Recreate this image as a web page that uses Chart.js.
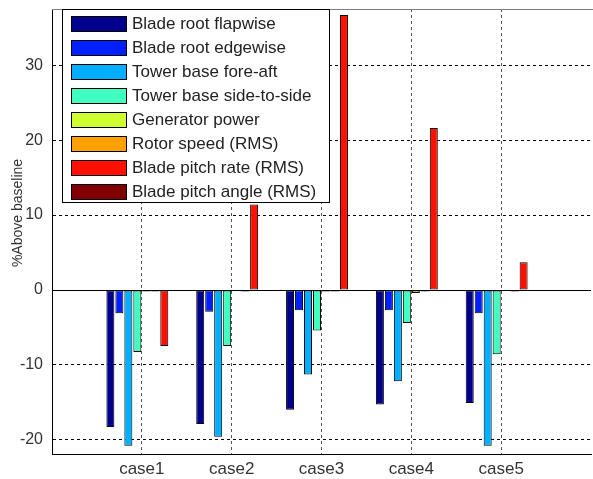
<!DOCTYPE html>
<html>
<head>
<meta charset="utf-8">
<script src="https://cdn.jsdelivr.net/npm/chart.js@4.4.0/dist/chart.umd.min.js"></script>
<style>
  html, body { margin: 0; padding: 0; background: #fff; }
</style>
</head>
<body>
<canvas id="grafico" width="593" height="479"></canvas>
<script>
// Dados
const casos = ['case1', 'case2', 'case3', 'case4', 'case5'];
const yTicks = [-20, -10, 0, 10, 20, 30];

const nomesSeries = [
  'Blade root flapwise',
  'Blade root edgewise',
  'Tower base fore-aft',
  'Tower base side-to-side',
  'Generator power',
  'Rotor speed (RMS)',
  'Blade pitch rate (RMS)',
  'Blade pitch angle (RMS)'
];

const rootFlapwise = [-18.3, -17.9, -16.0, -15.3, -15.1];
const rootEdgewise = [-3.1, -2.9, -2.7, -2.7, -3.1];
const towerForeAft = [-20.8, -19.6, -11.3, -12.2, -20.8];
const towerSideToSide = [-8.3, -7.5, -5.4, -4.4, -8.6];
const generatorPower = [-0.2, -0.1, -0.2, -0.4, -0.1];
const rotorSpeed = [-0.2, -0.2, -0.2, -0.2, -0.2];
const pitchRate = [-7.5, 11.4, 36.7, 21.6, 3.7];
const pitchAngle = [0.05, 0.05, 0.05, 0.05, 0.05];

// Cores (jet do MATLAB)
const cores = ['#00008F', '#0020FF', '#00AFFF', '#40FFBF', '#CFFF30', '#FF9F00', '#FF1000', '#800000'];

const valores = [rootFlapwise, rootEdgewise, towerForeAft, towerSideToSide,
  generatorPower, rotorSpeed, pitchRate, pitchAngle];

// Rótulos com posições vazias nas pontas (eixo de 0 a 6)
const rotulos = [''].concat(casos, ['']);

const datasets = valores.map((serie, i) => ({
  label: nomesSeries[i],
  data: [null].concat(serie, [null]),
  backgroundColor: cores[i],
  borderColor: '#000',
  borderWidth: 1,
  borderSkipped: false,
  categoryPercentage: 0.8,
  barPercentage: 0.89
}));

// Linha do zero, borda superior e legenda dentro da área do gráfico
const extrasPlugin = {
  id: 'extras',
  afterDatasetsDraw(chart) {
    const { ctx, chartArea, scales } = chart;
    const y0 = Math.round(scales.y.getPixelForValue(0)) + 0.5;
    ctx.save();
    ctx.strokeStyle = '#000';
    ctx.lineWidth = 1;
    ctx.beginPath();
    ctx.moveTo(chartArea.left, y0);
    ctx.lineTo(chartArea.right, y0);
    ctx.stroke();

    ctx.strokeStyle = '#808080';
    ctx.beginPath();
    ctx.moveTo(chartArea.left, Math.round(chartArea.top) + 0.5);
    ctx.lineTo(chartArea.right + 2, Math.round(chartArea.top) + 0.5);
    ctx.stroke();

    // título do eixo Y
    ctx.fillStyle = '#333';
    ctx.font = '14px "Liberation Sans", Arial, sans-serif';
    ctx.textAlign = 'center';
    ctx.textBaseline = 'middle';
    ctx.translate(18, 213);
    ctx.rotate(-Math.PI / 2);
    ctx.fillText('%Above baseline', 0, 0);
    ctx.restore();
  },
  afterDraw(chart) {
    const { ctx } = chart;
    const bx = 62, by = 9, bw = 267, bh = 193;
    ctx.save();
    ctx.fillStyle = '#fff';
    ctx.fillRect(bx, by, bw, bh);
    ctx.strokeStyle = '#000';
    ctx.lineWidth = 1;
    ctx.strokeRect(bx + 0.5, by + 0.5, bw, bh);
    ctx.font = '17px "Liberation Sans", Arial, sans-serif';
    ctx.textAlign = 'left';
    ctx.textBaseline = 'middle';
    nomesSeries.forEach((nome, i) => {
      const cy = 23.5 + 24 * i;
      ctx.fillStyle = cores[i];
      ctx.fillRect(71, Math.round(cy - 8), 56, 16);
      ctx.strokeStyle = '#000';
      ctx.strokeRect(71.5, Math.round(cy - 8) + 0.5, 55, 15);
      ctx.fillStyle = '#222';
      ctx.fillText(nome, 132, cy + 1);
    });
    ctx.restore();
  }
};

const ctx = document.getElementById('grafico').getContext('2d');
const chart = new Chart(ctx, {
  type: 'bar',
  data: { labels: rotulos, datasets },
  options: {
    responsive: false,
    animation: false,
    layout: { padding: { top: 9, right: 2, left: 0, bottom: 0 } },
    plugins: {
      legend: { display: false },
      tooltip: { enabled: false }
    },
    scales: {
      x: {
        type: 'category',
        offset: false,
        grid: {
          offset: false,
          drawTicks: false,
          color: c => (c.index === 0 || c.index === rotulos.length - 1) ? 'rgba(0,0,0,0)' : '#555',
          lineWidth: 1
        },
        border: { display: true, color: '#000', dash: [3, 3] },
        ticks: {
          color: '#333',
          font: { family: '"Liberation Sans", Arial, sans-serif', size: 17 },
          padding: 5,
          maxRotation: 0,
          autoSkip: false
        },
        afterFit: scale => {
          scale.height = 25;
          scale.paddingLeft = 0;
          scale.paddingRight = 0;
        }
      },
      y: {
        min: -21.9,
        max: 37.5,
        grid: {
          drawTicks: false,
          color: c => (c.tick && c.tick.value === 0) ? 'rgba(0,0,0,0)' : '#000',
          lineWidth: 1
        },
        border: { display: true, color: '#000', dash: [3, 3] },
        ticks: {
          stepSize: 10,
          color: '#333',
          font: { family: '"Liberation Sans", Arial, sans-serif', size: 16 },
          padding: 9
        },
        afterBuildTicks: scale => {
          scale.ticks = yTicks.map(v => ({ value: v }));
        },
        afterFit: scale => {
          scale.width = 52;
          scale.paddingTop = 0;
          scale.paddingBottom = 0;
        }
      }
    }
  },
  plugins: [extrasPlugin]
});
</script>
</body>
</html>
